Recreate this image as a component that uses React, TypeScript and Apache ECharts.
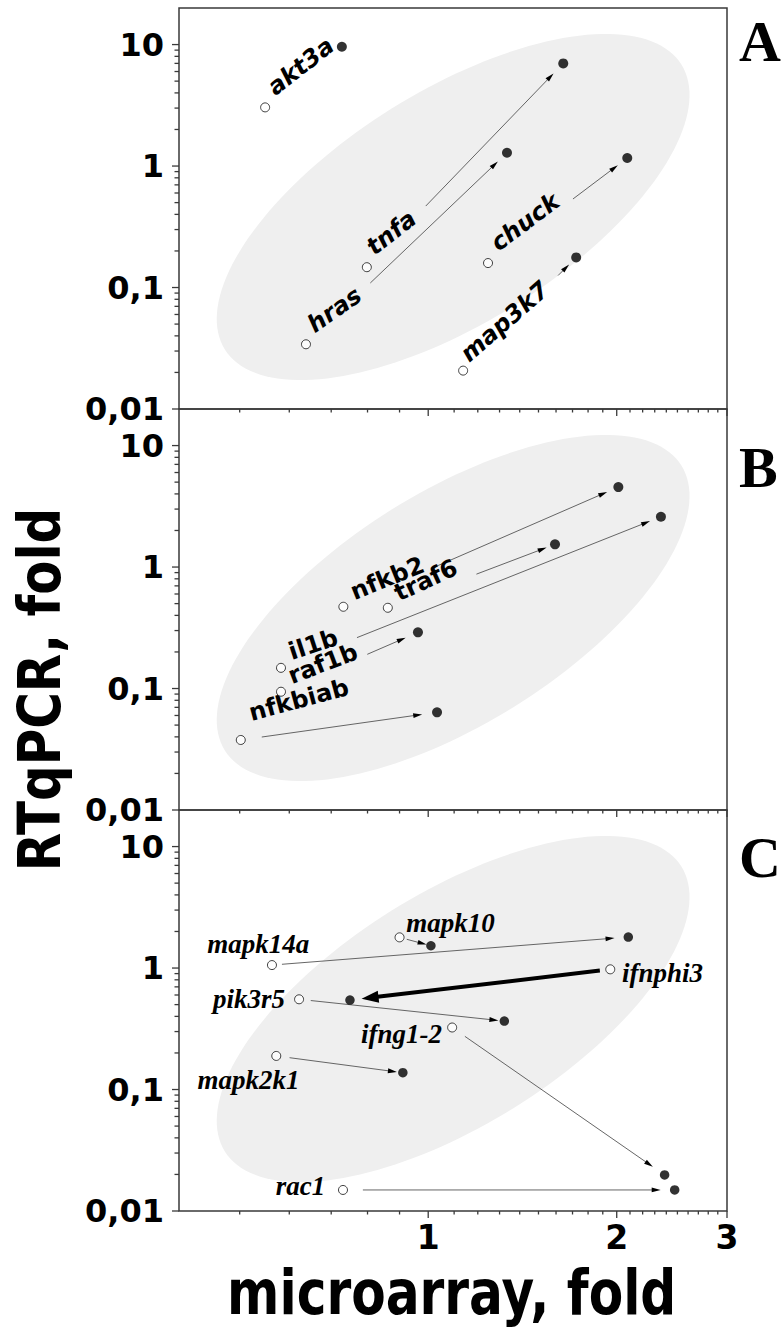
import React, { useEffect, useRef } from 'react';
import * as echarts from 'echarts';

// ---------- axes ----------
const xRange = [0.4, 3];
const yRange = [0.01, 20];
const xMajorTicks = [1, 2, 3];
const xTickLabels = ['1', '2', '3'];
const xMinorTicks = [0.5, 0.6, 0.7, 0.8, 0.9, 1.1, 1.2, 1.3, 1.4, 1.5, 1.6, 1.7, 1.8, 1.9, 2.1, 2.2, 2.3, 2.4, 2.5, 2.6, 2.7, 2.8, 2.9];
const yMajorTicks = [0.01, 0.1, 1, 10];
const yTickLabels = ['0,01', '0,1', '1', '10'];
const yMinorTicks = [0.02, 0.03, 0.04, 0.05, 0.06, 0.07, 0.08, 0.09, 0.2, 0.3, 0.4, 0.5, 0.6, 0.7, 0.8, 0.9, 2, 3, 4, 5, 6, 7, 8, 9];
const panelLetters = ['A', 'B', 'C'];
const xAxisTitle = 'microarray, fold';
const yAxisTitle = 'RTqPCR, fold';

// ---------- grey ellipse (data space) ----------
const ellipseCenter = [1.096, 0.46];
const ellipseMajorEnd = [2.537, 6.84];
const ellipseMinorEnd = [1.374, 0.0712];

// ---------- panel A ----------
const panelAGenes = ['akt3a', 'hras', 'tnfa', 'chuck', 'map3k7'];
const panelAOpenX = [0.549, 0.638, 0.798, 1.246, 1.137];
const panelAOpenY = [3.04, 0.0341, 0.147, 0.159, 0.0207];
const panelAFilledX = [0.728, 1.336, 1.643, 2.079, 1.723];
const panelAFilledY = [9.59, 1.287, 7.0, 1.164, 0.177];

// ---------- panel B ----------
const panelBGenes = ['nfkb2', 'traf6', 'il1b', 'raf1b', 'nfkbiab'];
const panelBOpenX = [0.732, 0.862, 0.582, 0.582, 0.502];
const panelBOpenY = [0.471, 0.462, 0.148, 0.0941, 0.0377];
const panelBFilledX = [2.012, 1.594, 2.353, 0.963, 1.033];
const panelBFilledY = [4.555, 1.538, 2.594, 0.29, 0.0637];

// ---------- panel C ----------
const panelCGenes = ['mapk14a', 'mapk10', 'ifnphi3', 'pik3r5', 'ifng1-2', 'mapk2k1', 'rac1'];
const panelCOpenX = [0.563, 0.9, 1.953, 0.622, 1.092, 0.572, 0.731];
const panelCOpenY = [1.058, 1.789, 0.976, 0.553, 0.324, 0.189, 0.0149];
const panelCFilledX = [2.087, 1.01, 0.75, 1.323, 2.385, 0.911, 2.475];
const panelCFilledY = [1.8, 1.526, 0.545, 0.366, 0.0198, 0.1375, 0.0149];

// ---------- styles (layout only) ----------
const FRAME = '#3a3a3a';
const GRID_LEFT = 179;
const GRID_WIDTH = 548;
const GRID_TOPS = [8, 409, 810];
const GRID_HEIGHT = 401;

const panelStyles = [
  {
    font: { fontFamily: 'DejaVu Sans', fontWeight: 'bold', fontStyle: 'oblique', fontSize: 24 },
    labelDx: [35.5, 28.5, 24.5, 37, 41.5],
    labelDy: [-41, -34.5, -34.5, -41, -49],
    labelRot: [38, 35, 38, 37, 41],
    labelAlign: ['center', 'center', 'center', 'center', 'center'],
    arrowShow: [0, 1, 1, 1, 1],
    arrowStart: [0, 0.32, 0.3, 0.61, 0.84],
    arrowGap: [0, 12.6, 14, 11.8, 10],
    arrowBold: [0, 0, 0, 0, 0],
    filledSize: 10,
  },
  {
    font: { fontFamily: 'DejaVu Sans', fontWeight: 'bold', fontStyle: 'normal', fontSize: 24 },
    labelDx: [44, 38, 32.3, 41.8, 58],
    labelDy: [-28.5, -27.5, -23.3, -28, -40],
    labelRot: [22, 25, 18, 21, 15],
    labelAlign: ['center', 'center', 'center', 'center', 'center'],
    arrowShow: [1, 1, 1, 1, 1],
    arrowStart: [0.33, 0.53, 0.2, 0.63, 0.107],
    arrowGap: [12.2, 9, 11.7, 13.4, 15],
    arrowBold: [0, 0, 0, 0, 0],
    filledSize: 10,
  },
  {
    font: { fontFamily: 'Liberation Serif', fontWeight: 'bold', fontStyle: 'italic', fontSize: 27 },
    labelDx: [-13.7, 6.7, 11.7, -14, -10.2, -27.7, -17.7],
    labelDy: [-20.8, -14.7, 3.3, 0, 6.7, 24.2, -4.1],
    labelRot: [0, 0, 0, 0, 0, 0, 0],
    labelAlign: ['center', 'left', 'left', 'right', 'right', 'center', 'right'],
    arrowShow: [1, 1, 1, 1, 1, 1, 1],
    arrowStart: [0.028, 0.23, 0.04, 0.057, 0.06, 0.105, 0.06],
    arrowGap: [13.8, 4.5, 11.7, 6, 14.3, 6, 14],
    arrowBold: [0, 0, 1, 0, 0, 0, 0],
    filledSize: 9.5,
  },
];

const panels = [
  { genes: panelAGenes, ox: panelAOpenX, oy: panelAOpenY, fx: panelAFilledX, fy: panelAFilledY },
  { genes: panelBGenes, ox: panelBOpenX, oy: panelBOpenY, fx: panelBFilledX, fy: panelBFilledY },
  { genes: panelCGenes, ox: panelCOpenX, oy: panelCOpenY, fx: panelCFilledX, fy: panelCFilledY },
];

function textStyle(extra: any) {
  const s: any = { fill: '#000', ...extra };
  if (s.align) s.textAlign = s.align;
  if (s.verticalAlign) s.textVerticalAlign = s.verticalAlign;
  return s;
}

function buildOption() {
  const grid = GRID_TOPS.map((top) => ({
    left: GRID_LEFT, top, width: GRID_WIDTH, height: GRID_HEIGHT,
    show: true, borderColor: FRAME, borderWidth: 1.5, backgroundColor: 'transparent',
  }));
  const axisCommon = {
    type: 'log', logBase: 10,
    axisLine: { show: false }, axisTick: { show: false }, axisLabel: { show: false }, splitLine: { show: false },
  };
  const xAxis = GRID_TOPS.map((_, i) => ({ ...axisCommon, gridIndex: i, min: xRange[0], max: xRange[1] }));
  const yAxis = GRID_TOPS.map((_, i) => ({ ...axisCommon, gridIndex: i, min: yRange[0], max: yRange[1] }));

  const series: any[] = [];
  panels.forEach((p, gi) => {
    const st = panelStyles[gi];
    const base = { xAxisIndex: gi, yAxisIndex: gi, silent: true };

    // ellipse
    series.push({
      ...base, type: 'custom', z: 1, clip: false,
      data: [[ellipseCenter[0], ellipseCenter[1]]],
      renderItem: (params: any, api: any) => {
        const c = api.coord(ellipseCenter);
        const a = api.coord(ellipseMajorEnd);
        const b = api.coord(ellipseMinorEnd);
        const pts: number[][] = [];
        const n = 160;
        for (let k = 0; k < n; k++) {
          const t = (k / n) * Math.PI * 2;
          pts.push([
            c[0] + (a[0] - c[0]) * Math.cos(t) + (b[0] - c[0]) * Math.sin(t),
            c[1] + (a[1] - c[1]) * Math.cos(t) + (b[1] - c[1]) * Math.sin(t),
          ]);
        }
        return { type: 'polygon', shape: { points: pts }, style: { fill: '#efefef', stroke: null } };
      },
    });

    // ticks
    const tickData: number[][] = [];
    xMajorTicks.forEach((v) => tickData.push([v, yRange[0], 0, 1]));
    xMinorTicks.forEach((v) => tickData.push([v, yRange[0], 0, 0]));
    yMajorTicks.forEach((v) => tickData.push([xRange[0], v, 1, 1]));
    yMinorTicks.forEach((v) => tickData.push([xRange[0], v, 1, 0]));
    series.push({
      ...base, type: 'custom', z: 2, clip: false, data: tickData,
      renderItem: (params: any, api: any) => {
        const pt = api.coord([api.value(0), api.value(1)]);
        const isY = api.value(2) === 1;
        const major = api.value(3) === 1;
        const len = isY ? (major ? 7 : 4.5) : (major ? 7 : 3.5);
        const shape = isY
          ? { x1: pt[0] - len, y1: pt[1], x2: pt[0], y2: pt[1] }
          : { x1: pt[0], y1: pt[1], x2: pt[0], y2: pt[1] + len };
        return { type: 'line', shape, style: { stroke: FRAME, lineWidth: 1.3 } };
      },
    });

    // tick labels
    const lblData: number[][] = [];
    yMajorTicks.forEach((v, k) => lblData.push([xRange[0], v, 1, k]));
    if (gi === 2) xMajorTicks.forEach((v, k) => lblData.push([v, yRange[0], 0, k]));
    series.push({
      ...base, type: 'custom', z: 2, clip: false, data: lblData,
      renderItem: (params: any, api: any) => {
        const pt = api.coord([api.value(0), api.value(1)]);
        const isY = api.value(2) === 1;
        const k = api.value(3);
        if (isY) {
          return {
            type: 'text', x: pt[0] - 15, y: pt[1],
            style: textStyle({ text: yTickLabels[k], fontFamily: 'DejaVu Sans', fontWeight: 'bold', fontSize: 32, align: 'right', verticalAlign: 'middle' }),
          };
        }
        return {
          type: 'text', x: pt[0], y: pt[1] + 10,
          style: textStyle({ text: xTickLabels[k], fontFamily: 'DejaVu Sans', fontWeight: 'bold', fontSize: 33, align: 'center', verticalAlign: 'top' }),
        };
      },
    });

    // arrows
    const arrowData = p.genes.map((_, k) => [p.ox[k], p.oy[k], p.fx[k], p.fy[k], k]);
    series.push({
      ...base, type: 'custom', z: 3, clip: false, data: arrowData,
      renderItem: (params: any, api: any) => {
        const k = api.value(4);
        if (!st.arrowShow[k]) return null;
        const p0 = api.coord([api.value(0), api.value(1)]);
        const p1 = api.coord([api.value(2), api.value(3)]);
        const dx = p1[0] - p0[0];
        const dy = p1[1] - p0[1];
        const len = Math.sqrt(dx * dx + dy * dy);
        const ux = dx / len, uy = dy / len;
        const nx = -uy, ny = ux;
        const bold = st.arrowBold[k] === 1;
        const headLen = bold ? 17 : 9;
        const hw = bold ? 6 : 2.4;
        const sx = p0[0] + dx * st.arrowStart[k];
        const sy = p0[1] + dy * st.arrowStart[k];
        const tx = p1[0] - ux * st.arrowGap[k];
        const ty = p1[1] - uy * st.arrowGap[k];
        const bx = tx - ux * headLen;
        const by = ty - uy * headLen;
        return {
          type: 'group',
          children: [
            {
              type: 'line',
              shape: { x1: sx, y1: sy, x2: bx + ux * 1, y2: by + uy * 1 },
              style: { stroke: bold ? '#000' : '#555', lineWidth: bold ? 4 : 0.9 },
            },
            {
              type: 'polygon',
              shape: { points: [[tx, ty], [bx + nx * hw, by + ny * hw], [bx - nx * hw, by - ny * hw]] },
              style: { fill: '#000' },
            },
          ],
        };
      },
    });

    // gene labels
    const labelData = p.genes.map((_, k) => [p.ox[k], p.oy[k], k]);
    series.push({
      ...base, type: 'custom', z: 4, clip: false, data: labelData,
      renderItem: (params: any, api: any) => {
        const k = api.value(2);
        const pt = api.coord([api.value(0), api.value(1)]);
        return {
          type: 'text',
          x: pt[0] + st.labelDx[k],
          y: pt[1] + st.labelDy[k],
          rotation: (st.labelRot[k] * Math.PI) / 180,
          style: textStyle({
            text: p.genes[k], ...st.font, align: st.labelAlign[k], verticalAlign: 'middle',
          }),
        };
      },
    });

    // open circles
    series.push({
      ...base, type: 'scatter', z: 5, symbol: 'circle', symbolSize: 9,
      data: p.genes.map((g, k) => ({ name: g, value: [p.ox[k], p.oy[k]] })),
      itemStyle: { color: '#fff', borderColor: '#111', borderWidth: 1 },
    });
    // filled circles
    series.push({
      ...base, type: 'scatter', z: 5, symbol: 'circle', symbolSize: st.filledSize,
      data: p.genes.map((g, k) => ({ name: g, value: [p.fx[k], p.fy[k]] })),
      itemStyle: { color: '#000' },
    });
  });

  const graphic: any[] = [
    {
      type: 'text', x: 39.6, y: 689.5, rotation: Math.PI / 2, scaleX: 0.846,
      style: textStyle({ text: yAxisTitle, fontFamily: 'DejaVu Sans', fontWeight: 'bold', fontSize: 59, align: 'center', verticalAlign: 'middle' }),
    },
    {
      type: 'text', x: 451.7, y: 1293, scaleX: 0.81,
      style: textStyle({ text: xAxisTitle, fontFamily: 'DejaVu Sans', fontWeight: 'bold', fontSize: 62, align: 'center', verticalAlign: 'middle' }),
    },
  ];
  const letterY = [41, 467, 857];
  panelLetters.forEach((L, i) => {
    graphic.push({
      type: 'text', x: 739, y: letterY[i],
      style: textStyle({ text: L, fontFamily: 'Liberation Serif', fontWeight: 'bold', fontSize: 58, align: 'left', verticalAlign: 'middle' }),
    });
  });

  return {
    animation: false,
    backgroundColor: '#fff',
    textStyle: { fontFamily: 'DejaVu Sans' },
    grid, xAxis, yAxis, series, graphic,
  };
}

export default function App() {
  const ref = useRef<HTMLDivElement>(null);
  useEffect(() => {
    const chart = echarts.init(ref.current as HTMLDivElement, null, { renderer: 'svg' });
    chart.setOption(buildOption() as any);
    return () => chart.dispose();
  }, []);
  return (
    <div
      ref={ref}
      style={{ position: 'absolute', left: 0, top: 0, width: 783, height: 1336, background: '#fff' }}
    />
  );
}
